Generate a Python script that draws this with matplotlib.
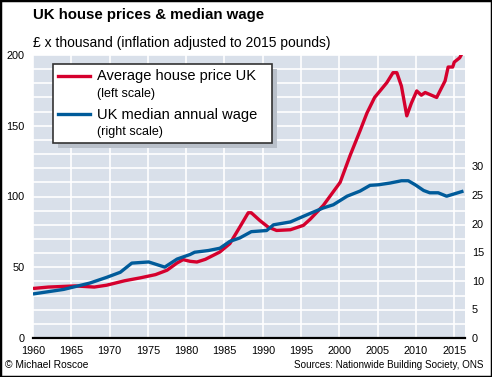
import matplotlib
matplotlib.use("Agg")
import matplotlib.pyplot as plt
from matplotlib import font_manager
from matplotlib.patches import Rectangle
from matplotlib.lines import Line2D

# average house price UK, £ thousand (left scale)
house_years = [1960, 1962, 1965.5, 1968, 1969.6, 1972, 1974, 1976, 1977.5, 1978.8,
               1979.6, 1980.5, 1981.4, 1982.5, 1984.4, 1985.7, 1987, 1988.1, 1988.5,
               1989.6, 1990.7, 1991.8, 1993.6, 1995.3, 1996.2, 1997.9, 2000.1, 2001.4,
               2002.7, 2003.6, 2004.6, 2006.2, 2007.0, 2007.5, 2008.1, 2008.8, 2009.4,
               2010.1, 2010.7, 2011.2, 2012.7, 2013.8, 2014.2, 2014.8, 2015, 2015.7, 2016.2]
house_price = [35, 36, 36.8, 36, 37.3, 40.5, 42.5, 44.8, 47.9, 53,
               55.4, 54.2, 53.7, 55.6, 60.8, 66.7, 78.4, 88.5, 88.5,
               83.1, 78.4, 76, 76.5, 79.6, 84, 93.7, 110, 129,
               146.5, 159, 170, 180.5, 187.5, 187.5, 178, 157, 166,
               174.6, 171.6, 173.5, 170, 181.7, 191.5, 191.5, 195, 198, 203]

# UK median annual wage, £ thousand (right scale)
wage_years = [1960, 1964, 1967.4, 1969.6, 1971.4, 1972.9, 1975.1, 1977.2, 1978.8, 1980.5,
              1981.1, 1982.9, 1984.4, 1985.7, 1987, 1988.5, 1990.5, 1991.4, 1993.6, 1996.2,
              1997.9, 1999.2, 2001, 2002.7, 2004, 2005.1, 2006.6, 2008.1, 2009, 2009.9,
              2011, 2011.8, 2012.9, 2014, 2016.2]
median_wage = [7.7, 8.5, 9.6, 10.6, 11.5, 13.1, 13.3, 12.4, 13.8, 14.6,
               15.0, 15.3, 15.7, 16.9, 17.5, 18.6, 18.8, 19.8, 20.3, 21.8,
               22.75, 23.3, 24.8, 25.7, 26.7, 26.8, 27.1, 27.5, 27.5, 26.8,
               25.8, 25.4, 25.4, 24.8, 25.7]

x_ticks = list(range(1960, 2016, 5))
left_ticks = [0, 50, 100, 150, 200]
right_ticks = [0, 5, 10, 15, 20, 25, 30]

RED = "#d5002d"
BLUE = "#005b9a"
BG = "#d9e0ea"

names = set(f.name for f in font_manager.fontManager.ttflist)
NARROW = "Liberation Sans"
for cand in ["Liberation Sans Narrow", "DejaVu Sans Condensed"]:
    if cand in names:
        NARROW = cand
        break
REG = "Liberation Sans"

fig = plt.figure(figsize=(4.92, 3.77), dpi=100)
ax = fig.add_axes([33 / 492, 1 - 338 / 377, 432 / 492, 283 / 377])
ax.set_facecolor(BG)
ax.plot(house_years, house_price, color=RED, lw=2.4, solid_capstyle="butt")
ax.set_xlim(1960, 2016.4)
ax.set_ylim(0, 200)
ax.set_xticks(x_ticks)
ax.set_yticks(left_ticks)
ax.set_yticks(range(0, 200, 10), minor=True)
ax.grid(True, which="both", axis="y", color="white", lw=1.2)
ax.grid(True, which="major", axis="x", color="white", lw=1.2)
ax.set_axisbelow(True)
for s in ["top", "left", "right"]:
    ax.spines[s].set_visible(False)
ax.spines["bottom"].set_linewidth(1.6)
ax.tick_params(which="both", length=0)
ax.tick_params(axis="y", pad=6)
ax.tick_params(axis="x", pad=6)
for lab in ax.get_xticklabels() + ax.get_yticklabels():
    lab.set_fontfamily(REG)
    lab.set_fontsize(7.8)

ax2 = ax.twinx()
ax2.plot(wage_years, median_wage, color=BLUE, lw=2.4, solid_capstyle="butt")
ax2.set_ylim(0, 49.5)
ax2.set_yticks(right_ticks)
for s in ax2.spines.values():
    s.set_visible(False)
ax2.tick_params(length=0, pad=5)
for lab in ax2.get_yticklabels():
    lab.set_fontfamily(REG)
    lab.set_fontsize(7.8)

W, H = 492, 377


def fx(px):
    return px / W


def fy(py):
    return 1 - py / H


# titles
fig.text(fx(33), fy(15), "UK house prices & median wage", fontsize=10.8, fontweight="bold",
         family=NARROW, va="center", ha="left")
fig.text(fx(33), fy(43), "£ x thousand (inflation adjusted to 2015 pounds)", fontsize=10,
         family=REG, va="center", ha="left")

# legend box with shadow
fig.add_artist(Rectangle((fx(58), fy(148)), fx(219), 79 / H, transform=fig.transFigure,
                         facecolor="#b9c0ca", edgecolor="none"))
fig.add_artist(Rectangle((fx(53), fy(143)), fx(219), 79 / H, transform=fig.transFigure,
                         facecolor="white", edgecolor="#333333", lw=1.2))
fig.add_artist(Line2D([fx(58), fx(90)], [fy(76), fy(76)], color=RED, lw=2.4))
fig.add_artist(Line2D([fx(58), fx(90)], [fy(114), fy(114)], color=BLUE, lw=2.4))
fig.text(fx(97), fy(76), "Average house price UK", fontsize=10.5, family=NARROW, va="center")
fig.text(fx(97), fy(94), "(left scale)", fontsize=9, family=REG, va="center")
fig.text(fx(97), fy(115), "UK median annual wage", fontsize=10.5, family=NARROW, va="center")
fig.text(fx(97), fy(132), "(right scale)", fontsize=9, family=REG, va="center")

# footer
fig.text(fx(5), fy(365), "© Michael Roscoe", fontsize=7.4, family=REG, va="center")
fig.text(fx(483), fy(365), "Sources: Nationwide Building Society, ONS", fontsize=7.1,
         family=REG, va="center", ha="right")

# outer frame
fig.add_artist(Rectangle((0, 0), 1, 1, transform=fig.transFigure, fill=False,
                         edgecolor="black", lw=2.5))

fig.savefig("out.png", dpi=100)
